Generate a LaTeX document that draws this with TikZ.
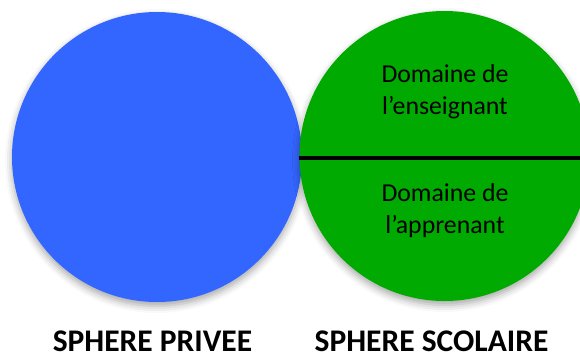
\documentclass[tikz,border=0pt]{standalone}
\usepackage{fontspec}
\setmainfont{Carlito}
\usetikzlibrary{shadows.blur}
\definecolor{sphereblue}{HTML}{3366FF}
\definecolor{spheregreen}{HTML}{00AA00}
\tikzset{
  x=1pt, y=1pt,
  sphere/.style={circle, inner sep=0pt, minimum size=290pt,
    blur shadow={shadow xshift=0pt, shadow yshift=-4pt, shadow blur radius=7pt, shadow opacity=35}},
  domaintext/.style={align=center, font=\fontsize{25.8}{32}\selectfont, inner sep=0pt},
  spherelabel/.style={anchor=base, inner sep=0pt, font=\fontsize{31.5}{38}\selectfont\bfseries},
}
\begin{document}
\begin{tikzpicture}
\useasboundingbox (0,0) rectangle (580,-356);
\clip (0,0) rectangle (580,-356);
\node[sphere, fill=sphereblue] (priv) at (157,-157) {};
\node[sphere, fill=spheregreen] (scol) at (444.5,-156) {};
\draw[line width=4.5pt] (scol.west |- 0,-158) -- (scol.east |- 0,-158);
\node[domaintext] (ens) at (445,-92) {Domaine de\\l’enseignant};
\node[domaintext] (app) at (445,-211) {Domaine de\\l’apprenant};
\node[spherelabel] (lpriv) at (152.5,-351.5) {SPHERE PRIVEE};
\node[spherelabel] (lscol) at (431.5,-351.5) {SPHERE SCOLAIRE};
\end{tikzpicture}
\end{document}
